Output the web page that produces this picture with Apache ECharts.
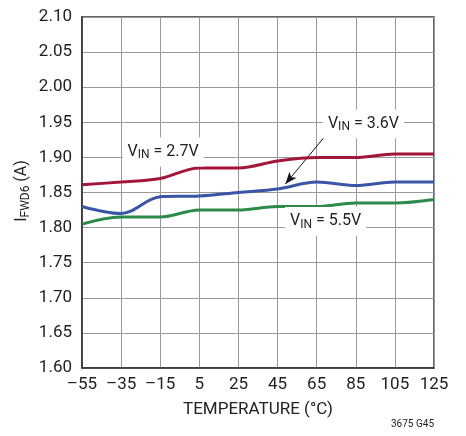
<!DOCTYPE html>
<html><head><meta charset="utf-8">
<script src="https://cdn.jsdelivr.net/npm/echarts@6/dist/echarts.min.js"></script>
<style>html,body{margin:0;padding:0;background:#fff}#c{width:466px;height:436px}</style>
</head><body><div id="c"></div>
<script>
const temps = [-55, -35, -15, 5, 25, 45, 65, 85, 105, 125];
const vin27 = [1.861, 1.865, 1.870, 1.885, 1.885, 1.895, 1.900, 1.900, 1.905, 1.905];
const vin36 = [1.830, 1.820, 1.844, 1.845, 1.850, 1.855, 1.865, 1.860, 1.865, 1.865];
const vin55 = [1.805, 1.815, 1.815, 1.825, 1.825, 1.830, 1.830, 1.835, 1.835, 1.840];
const xTicks = [-55, 125, 20];
const yTicks = [1.60, 2.10, 0.05];
const FONT = "'Liberation Sans Narrow', 'Roboto', sans-serif";

const chart = echarts.init(document.getElementById('c'), null, {renderer: 'canvas'});
function pairs(v){ return temps.map((t,i)=>[t, v[i]]); }
const lineBase = {type:'line', showSymbol:false, smooth:0.35, lineStyle:{width:3}, z:5};
chart.setOption({
  animation:false,
  grid:{left:82, top:17, right:32, bottom:68, show:true, borderColor:'#333', borderWidth:1.5},
  xAxis:{type:'value', min:xTicks[0], max:xTicks[1], interval:xTicks[2],
    axisLine:{show:true, onZero:false, lineStyle:{color:'#333', width:1.5}}, axisTick:{show:false},
    axisLabel:{color:'#222', fontSize:17, fontFamily:FONT, margin:8,
      formatter:v=>String(v).replace('-', '\u2013')},
    splitLine:{show:true, lineStyle:{color:'#999', width:1}}},
  yAxis:{type:'value', min:yTicks[0], max:yTicks[1], interval:yTicks[2],
    axisLine:{show:true, onZero:false, lineStyle:{color:'#333', width:1.5}}, axisTick:{show:false},
    axisLabel:{color:'#222', fontSize:17, fontFamily:FONT, margin:10, formatter:v=>v.toFixed(2)},
    splitLine:{show:true, lineStyle:{color:'#999', width:1}}},
  series:[
    Object.assign({}, lineBase, {name:'2.7V', data:pairs(vin27), itemStyle:{color:'#a3163c'}, lineStyle:{width:3, color:'#a3163c'}}),
    Object.assign({}, lineBase, {name:'3.6V', data:pairs(vin36), itemStyle:{color:'#3b55a6'}, lineStyle:{width:3, color:'#3b55a6'},
      markLine:{silent:true, symbol:['none','arrow'], symbolSize:[7,12], label:{show:false},
        lineStyle:{color:'#111', width:1, type:'solid'},
        data:[[{coord:[68.5, 1.9276]},{coord:[49, 1.862]}]]}}),
    Object.assign({}, lineBase, {name:'5.5V', data:pairs(vin55), itemStyle:{color:'#2e8a4b'}, lineStyle:{width:3, color:'#2e8a4b'}})
  ]
});

function lab(pos, value){
  const p = chart.convertToPixel({gridIndex:0}, pos);
  return {type:'text', x:p[0], y:p[1], z:100,
    style:{text:'{v|V}{s|IN}{v| = '+value+'}', verticalAlign:'middle', align:'left',
      backgroundColor:'#fff', padding:[5,5,5,5],
      rich:{v:{fontSize:16, fontFamily:FONT, fill:'#222'}, s:{fontSize:12, fontFamily:FONT, fill:'#222', padding:[7,0,0,0]}}}};
}
chart.setOption({graphic:[
  lab([-34.3, 1.9077], '2.7V'),
  lab([68.2, 1.9476], '3.6V'),
  lab([48.8, 1.8087], '5.5V'),
  {type:'text', x:258, y:410, z:100, style:{text:'TEMPERATURE (\u00B0C)', fontSize:17, fontFamily:FONT, fill:'#222', align:'center', verticalAlign:'middle'}},
  {type:'text', x:434, y:424, z:100, style:{text:'3675 G45', fontSize:10, fontFamily:FONT, fill:'#222', align:'right', verticalAlign:'middle'}},
  {type:'text', x:22, y:191, rotation:Math.PI/2, z:100,
    style:{text:'{v|I}{s|FWD6}{v| (A)}', align:'center', verticalAlign:'middle',
      rich:{v:{fontSize:16, fontFamily:FONT, fill:'#222'}, s:{fontSize:12, fontFamily:FONT, fill:'#222', padding:[7,0,0,0]}}}}
]});
</script></body></html>
